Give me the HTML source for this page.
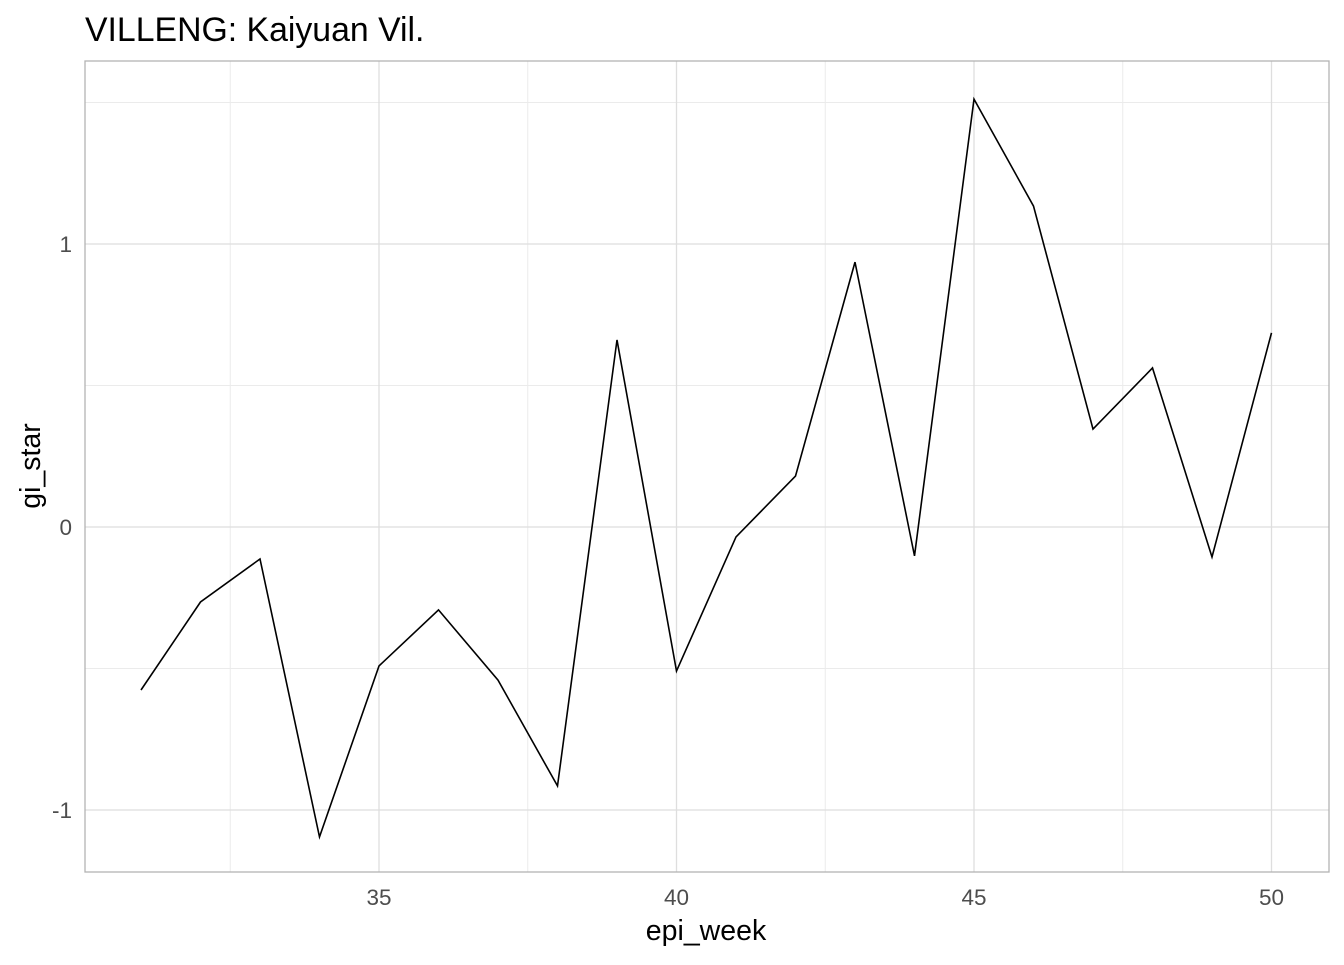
<!DOCTYPE html>
<html><head><meta charset="utf-8"><style>
body{margin:0;background:#fff;font-family:"Liberation Sans",sans-serif;}
</style></head><body>
<svg id="chart" width="1344" height="960" xmlns="http://www.w3.org/2000/svg" font-family="Liberation Sans, sans-serif">
<text x="85" y="41" font-size="33.8" fill="#000">VILLENG: Kaiyuan Vil.</text>
<g id="grid"></g>
<rect x="85" y="61" width="1244" height="811" fill="none" stroke="#b3b3b3" stroke-width="1.3"/>
<g id="marks"></g>
<text x="706" y="940" font-size="28.5" text-anchor="middle" fill="#000">epi_week</text>
<text transform="translate(40,466) rotate(-90)" font-size="28.5" text-anchor="middle" fill="#000">gi_star</text>
</svg>
<script>
const weeks=[31,32,33,34,35,36,37,38,39,40,41,42,43,44,45,46,47,48,49,50];
const giStar=[-0.576,-0.265,-0.113,-1.095,-0.491,-0.293,-0.541,-0.915,0.661,-0.509,-0.035,0.180,0.936,-0.102,1.512,1.134,0.346,0.562,-0.106,0.686];
const xTicks=[35,40,45,50];
const xMinor=[32.5,37.5,42.5,47.5];
const yTicks=[-1,0,1];
const yMinor=[-0.5,0.5,1.5];
const X=v=>379+(v-35)*59.5;
const Y=v=>527-v*283;
const NS="http://www.w3.org/2000/svg";
const grid=document.getElementById('grid'),marks=document.getElementById('marks');
function ln(p,x1,y1,x2,y2,c,w){const l=document.createElementNS(NS,'line');l.setAttribute('x1',x1);l.setAttribute('y1',y1);l.setAttribute('x2',x2);l.setAttribute('y2',y2);l.setAttribute('stroke',c);l.setAttribute('stroke-width',w);p.appendChild(l);return l;}
function tx(s,x,y,a){const t=document.createElementNS(NS,'text');t.textContent=s;t.setAttribute('x',x);t.setAttribute('y',y);t.setAttribute('font-size','22.5');t.setAttribute('fill','#4d4d4d');t.setAttribute('text-anchor',a);document.getElementById('chart').appendChild(t);return t;}
xMinor.forEach(v=>{const l=ln(grid,X(v),61,X(v),872,'#ebebeb',1);

});
yMinor.forEach(v=>{const l=ln(grid,85,Y(v),1329,Y(v),'#ebebeb',1);

});
xTicks.forEach(v=>{const l=ln(grid,X(v),61,X(v),872,'#dedede',1.3);


const t=tx(String(v),X(v),905,'middle');

});
yTicks.forEach(v=>{const l=ln(grid,85,Y(v),1329,Y(v),'#dedede',1.3);


const t=tx(String(v),72,Y(v)+8,'end');

});
const p=document.createElementNS(NS,'polyline');
p.setAttribute('points',weeks.map((w,i)=>X(w)+','+Y(giStar[i])).join(' '));
p.setAttribute('fill','none');p.setAttribute('stroke','#000');p.setAttribute('stroke-width','1.6');


marks.appendChild(p);
</script>
</body></html>
